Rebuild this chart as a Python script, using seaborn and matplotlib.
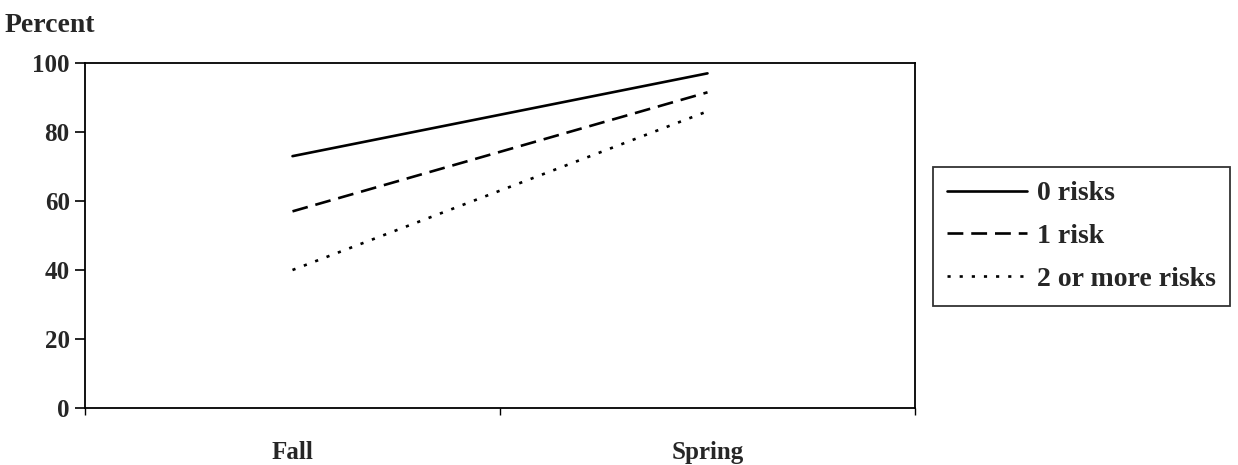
import matplotlib
matplotlib.use("Agg")
import matplotlib.pyplot as plt
import seaborn as sns
import pandas as pd

# Data
seasons = ["Fall", "Spring"]
groups = ["0 risks", "1 risk", "2 or more risks"]
zero_risks = [73, 97]
one_risk = [57, 91.5]
two_plus_risks = [40, 86]

df = pd.DataFrame({
    "season": seasons * 3,
    "group": [g for g in groups for _ in seasons],
    "percent": zero_risks + one_risk + two_plus_risks,
})
df["x"] = df["season"].map({s: i for i, s in enumerate(seasons)})

sns.set_theme(style="white")
plt.rcParams["font.family"] = ["Liberation Serif", "DejaVu Serif"]
plt.rcParams["font.weight"] = "bold"
FS = 18

fig = plt.figure(figsize=(12.38, 4.65), dpi=100)
ax = fig.add_axes([85 / 1238, 1 - 408 / 465, (915 - 85) / 1238, (408 - 63) / 465])

dashes = {"0 risks": "", "1 risk": (6, 3), "2 or more risks": (1.2, 3.4)}
sns.lineplot(data=df, x="x", y="percent", hue="group", style="group",
             palette=["black"] * 3, dashes=dashes, linewidth=1.9, ax=ax,
             legend=True)

ax.set_xlim(-0.5, 1.5)
ax.set_ylim(0, 100)
ax.set_xticks([0, 1])
ax.set_xticklabels(seasons)
ax.set_xticks([-0.5, 0.5, 1.5], minor=True)
ax.set_yticks(range(0, 101, 20))
ax.tick_params(axis="x", which="major", length=0, pad=24, labelsize=FS)
ax.tick_params(axis="x", which="minor", length=5, width=1, direction="out",
               bottom=True, color="black")
ax.tick_params(axis="y", length=7, width=1.2, direction="out", left=True,
               labelsize=FS, color="black", pad=4)
for lbl in ax.get_xticklabels() + ax.get_yticklabels():
    lbl.set_fontweight("bold")
ax.set_xlabel("")
ax.set_ylabel("")
for sp in ax.spines.values():
    sp.set_color("black")
    sp.set_linewidth(1.3)

handles, labels = ax.get_legend_handles_labels()
leg = ax.legend(handles, labels, loc="upper left",
                bbox_to_anchor=(933 / 1238, 1 - 167 / 465),
                bbox_transform=fig.transFigure, frameon=True, fancybox=False,
                handlelength=2.9, handletextpad=0.36, labelspacing=0.62,
                borderpad=0.5, borderaxespad=0,
                prop={"weight": "bold", "size": 20})
leg.get_frame().set_edgecolor("black")
leg.get_frame().set_linewidth(1.3)

fig.text(5 / 1238, 1 - 25 / 465, "Percent", fontsize=20, fontweight="bold",
         va="center", ha="left")

fig.savefig("out.png", dpi=100, facecolor="white")
